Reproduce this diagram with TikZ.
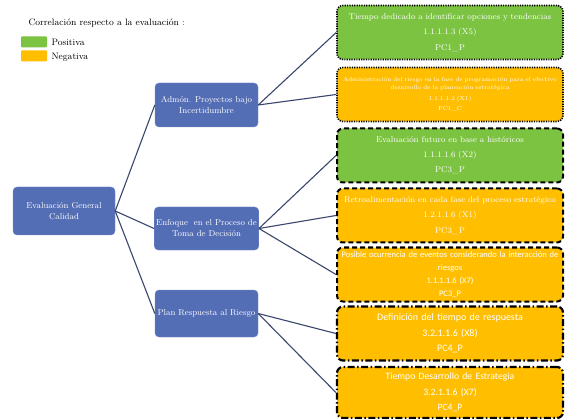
\documentclass[tikz,border=0pt]{standalone}
\usepackage{fontspec}
\newfontfamily\carl{Carlito}
\definecolor{boxblue}{RGB}{84,110,182}
\definecolor{linec}{RGB}{58,70,110}
\definecolor{pos}{RGB}{124,195,66}
\definecolor{neg}{RGB}{255,191,0}
\tikzset{
  bluebox/.style={fill=boxblue, draw=boxblue!80!white, rounded corners=4pt, text=white, align=center,
    font=\fontsize{8.6}{11}\selectfont, minimum width=103pt, inner sep=2pt},
  rbox/.style={rounded corners=6pt, text=white, align=center, minimum width=226pt, minimum height=54pt,
    inner sep=1pt, text width=224pt, draw=black},
  dotb/.style={line width=1.6pt, dash pattern=on 1.2pt off 1.2pt},
  dashb/.style={line width=2pt, dash pattern=on 5pt off 3pt},
  dashdotb/.style={line width=2.2pt, dash pattern=on 7pt off 2.5pt on 1.5pt off 2.5pt},
  conn/.style={draw=linec, line width=1.1pt},
  legtext/.style={anchor=west, font=\fontsize{9.3}{11}\selectfont},
  swatch/.style={minimum width=26pt, minimum height=11pt, inner sep=0pt, rounded corners=1pt}
}
\begin{document}
\begin{tikzpicture}[x=1pt,y=-1pt]
\useasboundingbox (0,0) rectangle (569,419);
\fill[white] (0,0) rectangle (569,419);
% legend
\node[legtext] (legt) at (25,23) {Correlación respecto a la evaluación :};
\node[swatch, fill=pos] (gsw) at (34,42) {};
\node[legtext] (gtx) at (48,42) {Positiva};
\node[swatch, fill=neg] (osw) at (34,56) {};
\node[legtext] (otx) at (48,57) {Negativa};
% blue boxes
\node[bluebox, minimum height=48pt, minimum width=102pt] (root) at (64,211) {Evaluación General\\Calidad};
\node[bluebox, minimum height=44pt] (admon) at (206.5,105) {Admón. Proyectos bajo\\Incertidumbre};
\node[bluebox, minimum height=43pt] (enf) at (206.5,228.5) {Enfoque \ en el Proceso de\\Toma de Decisión};
\node[bluebox, minimum height=47pt] (plan) at (206.5,313.5) {Plan Respuesta al Riesgo};
% right boxes
\node[rbox, dotb, fill=pos, font=\fontsize{8.4}{15.5}\selectfont] (b1) at (450,32.5)
  {Tiempo dedicado a identificar opciones y tendencias\\1.1.1.1.3 (X5)\\PC1\_P};
\node[rbox, dotb, fill=neg, font=\fontsize{5.9}{8.5}\selectfont] (b2) at (450,94.5)
  {Administración del riesgo en la fase de programación para el efectivo\\desarrollo de la planeación estratégica\\[2pt]1.1.1.1.2 (X1)\\[2pt]PC1\_C};
\node[rbox, dashb, fill=pos, font=\fontsize{8.4}{15}\selectfont] (b3) at (450,155.5)
  {Evaluación futuro en base a históricos\\1.1.1.1.6 (X2)\\PC3\_P};
\node[rbox, dashb, fill=neg, font=\fontsize{8.4}{15.5}\selectfont] (b4) at (450,215.5)
  {Retroalimentación en cada fase del proceso estratégico\\1.2.1.1.6 (X1)\\PC3\_P};
\node[rbox, dashb, fill=neg, font=\carl\fontsize{8.5}{13}\selectfont] (b5) at (450,274.5)
  {Posible ocurrencia de eventos considerando la interacción de\\riesgos\\1.1.1.1.6 (X7)\\PC3\_P};
\node[rbox, dashdotb, fill=neg, font=\carl\fontsize{10}{15.5}\selectfont] (b6) at (450,333.5)
  {Definición del tiempo de respuesta\\3.2.1.1.6 (X8)\\PC4\_P};
\node[rbox, dashdotb, fill=neg, font=\carl\fontsize{9.7}{15.5}\selectfont, minimum height=51pt] (b7) at (450,392.5)
  {Tiempo Desarrollo de Estrategia\\3.2.1.1.6 (X7)\\PC4\_P};
% connectors
\draw[conn] (root.east) -- (admon.west);
\draw[conn] (root.east) -- (enf.west);
\draw[conn] (root.east) -- (plan.west);
\draw[conn] (admon.east) -- (b1.west);
\draw[conn] (admon.east) -- (b2.west);
\draw[conn] (enf.east) -- (b3.west);
\draw[conn] (enf.east) -- (b4.west);
\draw[conn] (enf.east) -- (b5.west);
\draw[conn] (plan.east) -- (b6.west);
\draw[conn] (plan.east) -- (b7.west);
\end{tikzpicture}
\end{document}
